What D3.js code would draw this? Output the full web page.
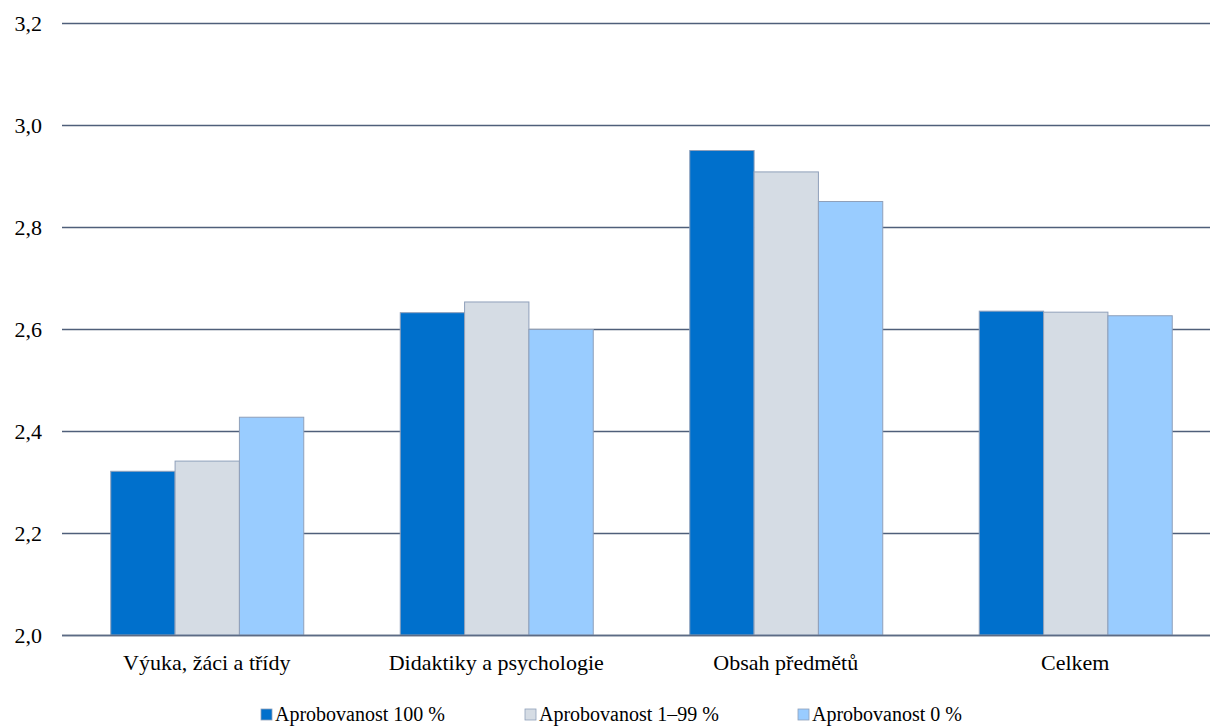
<!DOCTYPE html>
<html><head><meta charset="utf-8">
<script src="https://cdn.jsdelivr.net/npm/d3@7"></script>
<style>body{margin:0;background:#fff;}</style>
</head><body><svg id="c" width="1210" height="726"></svg>
<script>
const categories = ["Výuka, žáci a třídy", "Didaktiky a psychologie", "Obsah předmětů", "Celkem"];
const seriesNames = ["Aprobovanost 100 %", "Aprobovanost 1–99 %", "Aprobovanost 0 %"];
const s100 = [2.321, 2.632, 2.950, 2.635];
const s199 = [2.341, 2.653, 2.908, 2.633];
const s0 = [2.427, 2.599, 2.850, 2.626];
const yTicks = [2.0, 2.2, 2.4, 2.6, 2.8, 3.0, 3.2];
const colors = ["#0070CC", "#D5DCE4", "#99CCFF"];

(function(){
const FONT = "'Times New Roman', Times, Tinos, 'Liberation Serif', 'DejaVu Serif', 'Noto Serif', FreeSerif, serif";
const svg = d3.select("#c").attr("font-family", FONT);
const pLeft = 62, pRight = 1220, pTop = 23, pBottom = 635;
const x = d3.scaleBand().domain(categories).range([pLeft, pRight]).paddingInner(0).paddingOuter(0);
const y = d3.scaleLinear().domain([2.0, 3.2]).range([pBottom, pTop]);
const series = [s100, s199, s0];
const gapRatio = 1.5;
const bw = x.bandwidth() / (3 + gapRatio);
const x1 = d3.scaleBand().domain([0,1,2]).range([0, bw*3]);

// gridlines
svg.append("g").selectAll("line").data(yTicks).join("line")
  .attr("x1", pLeft).attr("x2", pRight)
  .attr("y1", d => Math.round(y(d)) + 0.5).attr("y2", d => Math.round(y(d)) + 0.5)
  .attr("stroke", "#4F5F7A").attr("stroke-width", 1.5);

// y labels
svg.append("g").selectAll("text").data(yTicks).join("text")
  .attr("x", 42).attr("y", d => y(d) + 8)
  .attr("text-anchor", "end").attr("font-size", 22).attr("font-family", FONT).attr("fill", "#000")
  .text(d => d3.format(".1f")(d).replace(".", ","));

// bars
const g = svg.append("g");
series.forEach((s, si) => {
  g.selectAll(".b" + si).data(categories).join("rect")
    .attr("class", "b" + si)
    .attr("x", (c) => x(c) + bw*gapRatio/2 + x1(si) + 0.5)
    .attr("y", (c, i) => y(s[i]))
    .attr("width", x1.bandwidth())
    .attr("height", (c, i) => y(2.0) - y(s[i]))
    .attr("fill", colors[si])
    .attr("stroke", "#8FA0BA").attr("stroke-width", 1);
});

// baseline
svg.append("line").attr("x1", pLeft).attr("x2", pRight)
  .attr("y1", pBottom + 0.5).attr("y2", pBottom + 0.5)
  .attr("stroke", "#5C6B85").attr("stroke-width", 1.5);

// x labels
svg.append("g").selectAll("text").data(categories).join("text")
  .attr("x", c => x(c) + x.bandwidth()/2)
  .attr("y", 670).attr("text-anchor", "middle").attr("font-size", 22).attr("font-family", FONT).attr("fill", "#000")
  .text(c => c);

// legend
const legX = [261, 525, 798];
const leg = svg.append("g");
seriesNames.forEach((n, i) => {
  leg.append("rect").attr("x", legX[i]).attr("y", 709).attr("width", 11).attr("height", 11)
    .attr("fill", colors[i]).attr("stroke", "#8FA0BA").attr("stroke-width", 0.8);
  leg.append("text").attr("x", legX[i] + 14).attr("y", 721).attr("font-size", 20).attr("font-family", FONT).attr("fill", "#000").text(n);
});
})();
</script>
</body></html>
